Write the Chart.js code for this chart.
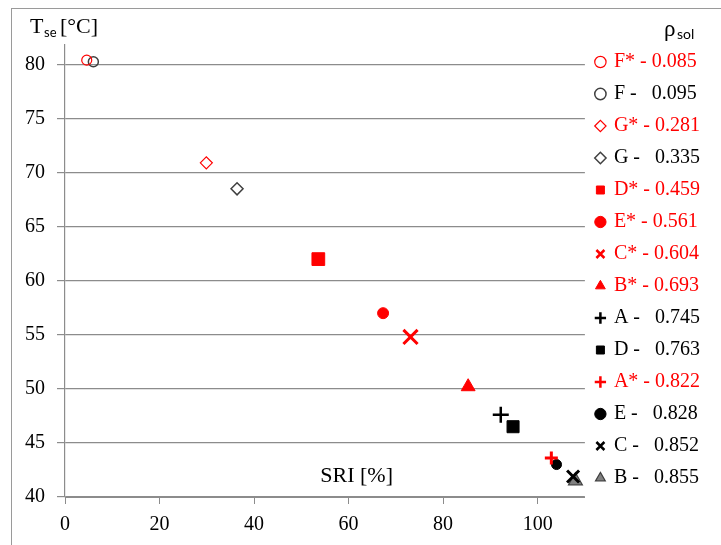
<!DOCTYPE html>
<html>
<head>
<meta charset="utf-8">
<script src="https://cdn.jsdelivr.net/npm/chart.js@4"></script>
<style>
  html, body { margin: 0; padding: 0; background: #fff; }
  #wrap { width: 721px; height: 545px; position: relative; }
</style>
</head>
<body>
<div id="wrap"><canvas id="sriChart"></canvas></div>
<script>
// samples: reference (*) and aged, with solar reflectance
const sampleCodes = ['F*', 'F', 'G*', 'G', 'D*', 'E*', 'C*', 'B*', 'A', 'D', 'A*', 'E', 'C', 'B'];
const rhoSol = ['0.085', '0.095', '0.281', '0.335', '0.459', '0.561', '0.604', '0.693', '0.745', '0.763', '0.822', '0.828', '0.852', '0.855'];
const sriValues = [4.6, 6.0, 29.9, 36.4, 53.6, 67.3, 73.1, 85.3, 92.2, 94.8, 102.9, 104.0, 107.5, 108.0];
const tseValues = [80.4, 80.25, 70.9, 68.5, 62.0, 57.0, 54.8, 50.2, 47.6, 46.5, 43.6, 43.0, 41.9, 41.5];
const yTicks = [40, 45, 50, 55, 60, 65, 70, 75, 80];
const xTicks = [0, 20, 40, 60, 80, 100];

// marker styles
const RED = '#ff0000';
const DARK = '#404040';
const markerStyles = ['circle', 'circle', 'rectRot', 'rectRot', 'rect', 'circle', 'crossRot', 'triangle', 'cross', 'rect', 'cross', 'circle', 'crossRot', 'triangle'];
const markerSizes = [5, 5, 6, 6, 9, 5.5, 10, 8, 8, 8.5, 6.5, 5, 8.5, 8];
const markerFill = ['rgba(0,0,0,0)', 'rgba(0,0,0,0)', 'rgba(0,0,0,0)', 'rgba(0,0,0,0)', RED, RED, RED, RED, '#000', '#000', RED, '#000', '#000', '#808080'];
const markerLine = [RED, DARK, RED, DARK, RED, RED, RED, RED, '#000', '#000', RED, '#000', '#000', DARK];
const markerWidth = [1.2, 1.5, 1.2, 1.5, 1, 1, 3, 1, 2.5, 1, 3, 1, 3, 1.2];

const SERIF = "'Liberation Serif', 'Times New Roman', serif";
const GRID = '#8c8c8c';

const datasets = sampleCodes.map((code, i) => ({
    label: code,
    data: [{ x: sriValues[i], y: tseValues[i] }],
    pointStyle: markerStyles[i],
    pointRadius: markerSizes[i],
    pointHoverRadius: markerSizes[i],
    backgroundColor: markerFill[i],
    borderColor: markerLine[i],
    borderWidth: markerWidth[i]
}));

const extraText = {
    id: 'extraText',
    beforeDraw(chart) {
        const ctx = chart.ctx;
        ctx.save();
        ctx.strokeStyle = '#9a9a9a';
        ctx.lineWidth = 1;
        ctx.strokeRect(11.5, 8.5, 760, 600);
        ctx.restore();
    },
    afterDraw(chart) {
        const ctx = chart.ctx;
        const xs = chart.scales.x;
        const ys = chart.scales.y;
        ctx.save();
        ctx.fillStyle = '#000';
        ctx.textBaseline = 'alphabetic';
        ctx.textAlign = 'left';
        // y axis title  T_se [°C]
        ctx.font = '22px ' + SERIF;
        ctx.fillText('T', 30, 33);
        ctx.font = '13px Lato, sans-serif';
        ctx.fillText('se', 44, 37);
        ctx.font = '22px ' + SERIF;
        ctx.fillText('[°C]', 60, 33);
        // legend title  ρ_sol
        ctx.font = '23px ' + SERIF;
        ctx.fillText('ρ', 664, 36);
        ctx.font = '14px Lato, sans-serif';
        ctx.fillText('sol', 677, 39);
        // x axis title inside plot
        ctx.font = '22px ' + SERIF;
        ctx.textAlign = 'center';
        ctx.textBaseline = 'middle';
        ctx.fillText('SRI [%]', xs.getPixelForValue(61.7), ys.getPixelForValue(41.95));
        ctx.restore();
    }
};

new Chart(document.getElementById('sriChart'), {
    type: 'scatter',
    data: { datasets },
    plugins: [extraText],
    options: {
        responsive: true,
        maintainAspectRatio: false,
        animation: false,
        layout: { padding: { top: 8, left: 13, right: 11, bottom: 0 } },
        plugins: {
            tooltip: { enabled: false },
            title: {
                display: true,
                fullSize: false,
                text: ' ',
                font: { size: 20 },
                padding: { top: 13, bottom: 0 }
            },
            legend: {
                position: 'right',
                align: 'start',
                title: {
                    display: true,
                    text: ' ',
                    font: { size: 20 },
                    padding: { top: 8, bottom: 0 }
                },
                labels: {
                    usePointStyle: true,
                    boxWidth: 7,
                    boxHeight: 8,
                    padding: 12,
                    font: { family: SERIF, size: 20 },
                    generateLabels: (chart) => sampleCodes.map((code, i) => ({
                        text: code.endsWith('*') ? code + ' - ' + rhoSol[i] : code + ' -   ' + rhoSol[i],
                        fillStyle: markerFill[i],
                        strokeStyle: markerLine[i],
                        lineWidth: markerStyles[i].startsWith('cross') ? 2.5 : markerWidth[i],
                        pointStyle: markerStyles[i],
                        fontColor: code.endsWith('*') ? RED : '#000',
                        hidden: false,
                        datasetIndex: i
                    }))
                }
            }
        },
        scales: {
            x: {
                type: 'linear',
                min: 0,
                max: 110,
                afterBuildTicks: (axis) => { axis.ticks = xTicks.map(v => ({ value: v })); },
                ticks: { padding: 11, color: '#000', font: { family: SERIF, size: 20, lineHeight: 0.95 } },
                grid: { drawOnChartArea: false, tickLength: 7, color: GRID },
                border: { color: GRID, width: 1 }
            },
            y: {
                min: 40,
                max: 81.8,
                afterBuildTicks: (axis) => { axis.ticks = yTicks.map(v => ({ value: v })); },
                ticks: { padding: 12, color: '#000', font: { family: SERIF, size: 20 } },
                grid: { tickLength: 8, color: GRID, lineWidth: 1.2 },
                border: { color: GRID, width: 1.2 }
            }
        }
    }
});
</script>
</body>
</html>
